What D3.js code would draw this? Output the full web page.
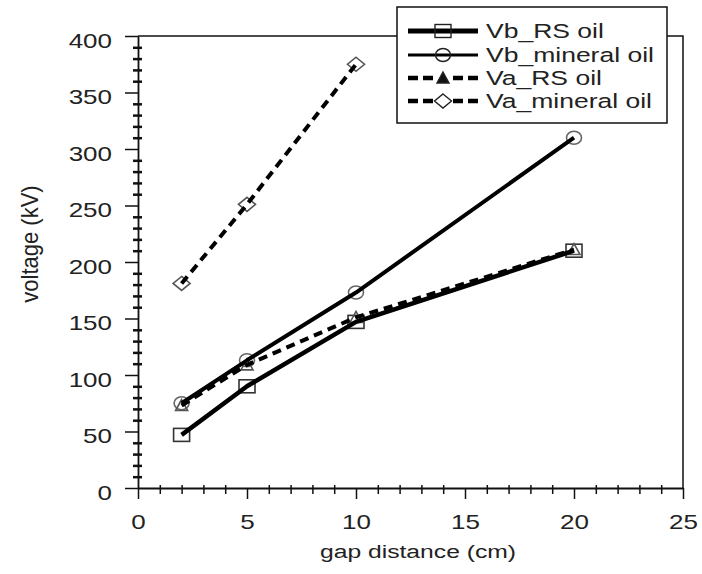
<!DOCTYPE html>
<html><head><meta charset="utf-8">
<script src="https://cdn.jsdelivr.net/npm/d3@7"></script>
<style>
html,body{margin:0;padding:0;background:#fff;}
svg{display:block;font-family:"Liberation Sans",Arial,sans-serif;}
</style></head>
<body><svg id="c" width="702" height="574"></svg>
<script>
// ---- data ----
const gapVb = [2, 5, 10, 20];
const vbRS = [47, 90, 147, 210];
const vbMineral = [75, 113, 173, 310];
const gapVaRS = [2, 5, 10, 20];
const vaRS = [73, 109, 151, 211];
const gapVaMineral = [2, 5, 10];
const vaMineral = [181, 251, 375];
const xTicks = [0, 5, 10, 15, 20, 25];
const yTicks = [0, 50, 100, 150, 200, 250, 300, 350, 400];
const seriesNames = ["Vb_RS oil", "Vb_mineral oil", "Va_RS oil", "Va_mineral oil"];
const xTitle = "gap distance (cm)";
const yTitle = "voltage (kV)";

const svg = d3.select("#c");
const L = 138, R = 683, T = 36, B = 488;
const x = d3.scaleLinear().domain([0, 25]).range([L, R]);
const y = d3.scaleLinear().domain([0, 400]).range([B, T]);
const SX = 1.3; // horizontal text stretch seen in the reference

// frame (top/right)
svg.append("path").attr("d", `M${L},${T}H${R}V${B}`).attr("fill","none").attr("stroke","#111").attr("stroke-width",1.5);

// Y minor ticks
const yMinor = d3.range(0, 401, 10).filter(v => v % 50 !== 0);
const gyMin = svg.append("g").attr("transform", `translate(${L+4},0)`)
  .call(d3.axisLeft(y).tickValues(yMinor).tickSize(9).tickFormat(""));
gyMin.select(".domain").remove();
gyMin.selectAll("line").attr("stroke","#111").attr("stroke-width",2.5);

// Y major axis
const gy = svg.append("g").attr("transform", `translate(${L},0)`)
  .call(d3.axisLeft(y).tickValues(yTicks).tickSizeInner(13).tickSizeOuter(0));
gy.select(".domain").attr("stroke","#111").attr("stroke-width",1.8);
gy.selectAll(".tick line").attr("stroke","#111").attr("stroke-width",1.5);
gy.selectAll(".tick text").attr("x",null).attr("dy",null)
  .attr("transform", `translate(-26,11) scale(${SX},1)`)
  .attr("text-anchor","end").attr("font-size",20).attr("fill","#222")
  .style("font-family","Liberation Sans, Arial, sans-serif");

// X minor ticks
const xMinor = d3.range(0, 26, 1).filter(v => v % 5 !== 0);
const gxMin = svg.append("g").attr("transform", `translate(0,${B-3})`)
  .call(d3.axisBottom(x).tickValues(xMinor).tickSize(9).tickFormat(""));
gxMin.select(".domain").remove();
gxMin.selectAll("line").attr("stroke","#111").attr("stroke-width",1.5);

// X major axis
const gx = svg.append("g").attr("transform", `translate(0,${B})`)
  .call(d3.axisBottom(x).tickValues(xTicks).tickSizeInner(11).tickSizeOuter(0));
gx.select(".domain").attr("stroke","#111").attr("stroke-width",1.8);
gx.selectAll(".tick line").attr("stroke","#111").attr("stroke-width",1.5);
gx.selectAll(".tick text").attr("y",null).attr("dy",null)
  .attr("transform", `translate(0,41) scale(${SX},1)`)
  .attr("text-anchor","middle").attr("font-size",20).attr("fill","#222")
  .style("font-family","Liberation Sans, Arial, sans-serif");

// axis titles
svg.append("text").attr("transform", `translate(418,558) scale(${SX},1)`)
  .attr("text-anchor","middle").attr("font-size",19).attr("fill","#222").text(xTitle);
svg.append("text").attr("transform", `translate(38,244) scale(1.08,1) rotate(-90)`)
  .attr("text-anchor","middle").attr("font-size",22).attr("fill","#222").text(yTitle);

// marker shapes
const mk = {
  square: (g) => g.append("rect").attr("x",-8).attr("y",-6.5).attr("width",16).attr("height",13),
  circle: (g) => g.append("ellipse").attr("rx",7.5).attr("ry",6.5),
  triangle: (g) => g.append("path").attr("d","M0,-6L6,5H-6Z"),
  diamond: (g) => g.append("path").attr("d","M0,-7L8.5,0L0,7L-8.5,0Z")
};

const series = [
  {name: seriesNames[0], xs: gapVb, ys: vbRS, w: 4.5, dash: null, m: "square", mc: "#333"},
  {name: seriesNames[1], xs: gapVb, ys: vbMineral, w: 4, dash: null, m: "circle", mc: "#666"},
  {name: seriesNames[2], xs: gapVaRS, ys: vaRS, w: 4, dash: "9,6", m: "triangle", mc: "#555"},
  {name: seriesNames[3], xs: gapVaMineral, ys: vaMineral, w: 4, dash: "9,6", m: "diamond", mc: "#555"}
];

const line = d3.line().x(d => x(d[0])).y(d => y(d[1]));
// markers first, lines on top
series.forEach(s => {
  s.xs.forEach((xv, i) => {
    const g = svg.append("g").attr("transform", `translate(${x(xv)},${y(s.ys[i])})`);
    mk[s.m](g).attr("fill","none").attr("stroke", s.mc).attr("stroke-width",1.6);
  });
});
series.forEach(s => {
  const pts = s.xs.map((xv, i) => [xv, s.ys[i]]);
  svg.append("path").attr("d", line(pts)).attr("fill","none")
    .attr("stroke","#000").attr("stroke-width", s.w)
    .attr("stroke-dasharray", s.dash).attr("stroke-linejoin","round");
});

// legend
const lg = svg.append("g");
lg.append("rect").attr("x",397).attr("y",7).attr("width",270).attr("height",116)
  .attr("fill","#fff").attr("stroke","#111").attr("stroke-width",1.5);
const rowY = [31, 55, 78, 101];
const legW = [5, 3, 4.5, 4.5];
series.forEach((s, i) => {
  const yy = rowY[i];
  lg.append("line").attr("x1",408).attr("x2",478).attr("y1",yy).attr("y2",yy)
    .attr("stroke","#000").attr("stroke-width", legW[i])
    .attr("stroke-dasharray", s.dash ? "10,5" : null);
  const g = lg.append("g").attr("transform", `translate(443,${yy})`);
  if (s.dash) g.append("rect").attr("x",-7).attr("y",-7).attr("width",14).attr("height",14).attr("fill","#fff");
  mk[s.m](g).attr("fill", s.dash ? "#fff" : "none").attr("stroke", "#222").attr("stroke-width",1.4);
  if (s.m === "triangle") g.select("path").attr("fill","#111");
  lg.append("text").attr("transform", `translate(486,${yy+7}) scale(1.36,1)`)
    .attr("font-size",19.5).attr("fill","#222").text(s.name);
});
</script>
</body></html>
